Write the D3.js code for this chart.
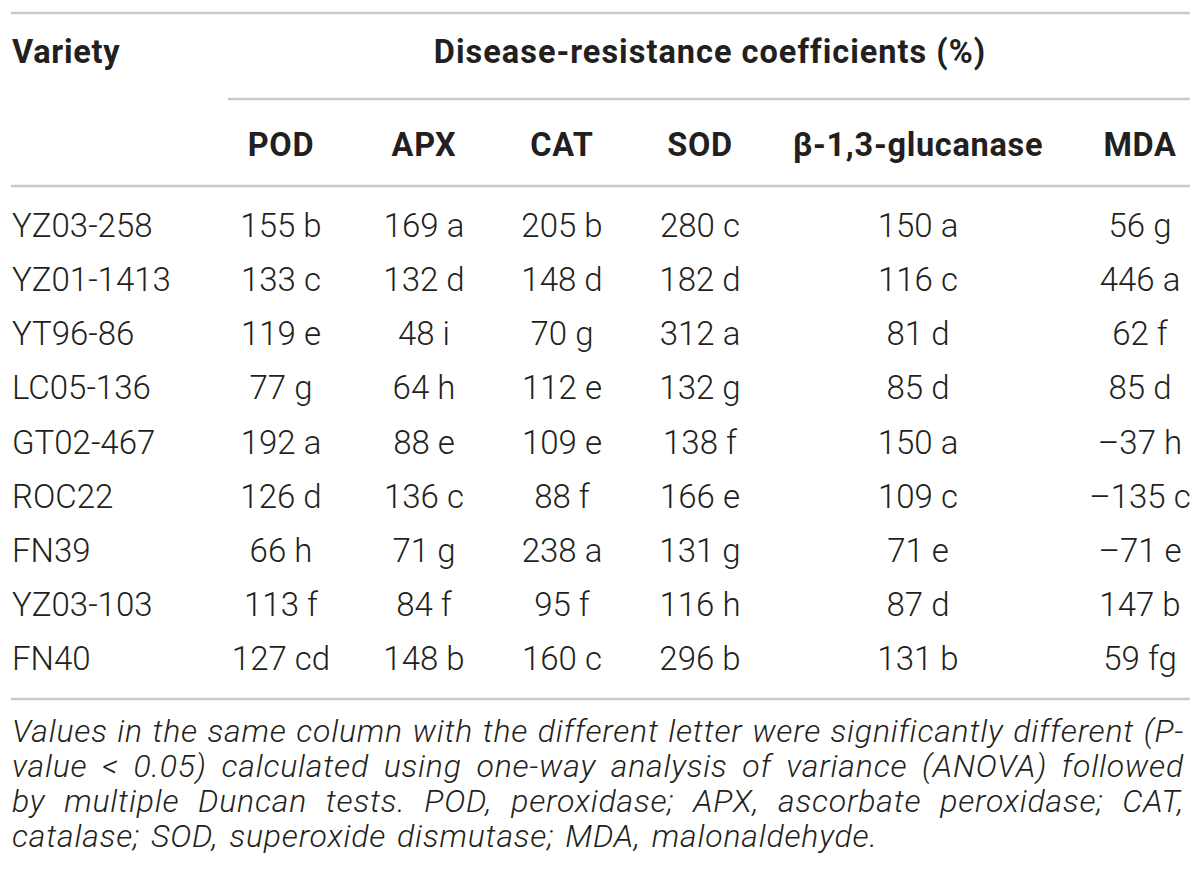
<!DOCTYPE html>
<html>
<head>
<meta charset="utf-8">
<script src="https://cdn.jsdelivr.net/npm/d3@7.9.0/dist/d3.min.js"></script>
<style>
  html, body { margin: 0; padding: 0; background: #fff; }
  svg { display: block; }
  text { fill: #231f20; }
</style>
</head>
<body>
<div id="chart0"></div>
<script>
const width = 1200;
const height = 889;

// table content
const varieties = ['YZ03-258', 'YZ01-1413', 'YT96-86', 'LC05-136', 'GT02-467', 'ROC22', 'FN39', 'YZ03-103', 'FN40'];
const columns = ['POD', 'APX', 'CAT', 'SOD', 'β-1,3-glucanase', 'MDA'];

const podValues = [155, 133, 119, 77, 192, 126, 66, 113, 127];
const podLetters = ['b', 'c', 'e', 'g', 'a', 'd', 'h', 'f', 'cd'];
const apxValues = [169, 132, 48, 64, 88, 136, 71, 84, 148];
const apxLetters = ['a', 'd', 'i', 'h', 'e', 'c', 'g', 'f', 'b'];
const catValues = [205, 148, 70, 112, 109, 88, 238, 95, 160];
const catLetters = ['b', 'd', 'g', 'e', 'e', 'f', 'a', 'f', 'c'];
const sodValues = [280, 182, 312, 132, 138, 166, 131, 116, 296];
const sodLetters = ['c', 'd', 'a', 'g', 'f', 'e', 'g', 'h', 'b'];
const glucValues = [150, 116, 81, 85, 150, 109, 71, 87, 131];
const glucLetters = ['a', 'c', 'd', 'd', 'a', 'c', 'e', 'd', 'b'];
const mdaValues = [56, 446, 62, 85, -37, -135, -71, 147, 59];
const mdaLetters = ['g', 'a', 'f', 'd', 'h', 'c', 'e', 'b', 'fg'];

const groupTitle = 'Disease-resistance coefficients (%)';
const footnoteLines = [
  'Values in the same column with the different letter were significantly different (P-',
  'value < 0.05) calculated using one-way analysis of variance (ANOVA) followed',
  'by multiple Duncan tests. POD, peroxidase; APX, ascorbate peroxidase; CAT,',
  'catalase; SOD, superoxide dismutase; MDA, malonaldehyde.'
];

const seriesValues = [podValues, apxValues, catValues, sodValues, glucValues, mdaValues];
const seriesLetters = [podLetters, apxLetters, catLetters, sodLetters, glucLetters, mdaLetters];

const fmt = v => (v < 0 ? '\u2013' + Math.abs(v) : String(v));

const svg = d3.select('#chart0')
  .append('svg')
  .attr('viewBox', `0 0 ${width} ${height}`)
  .attr('width', width)
  .attr('height', height);

const bodyFont = "Roboto, 'Liberation Sans', sans-serif";
const ruleColor = '#c9c9c9';
const left = 11, right = 1190;

const xCol = d3.scaleOrdinal()
  .domain(columns)
  .range([281, 424, 562, 700, 918, 1140]);

const yRow = d3.scalePoint()
  .domain(varieties)
  .range([237, 670]);

// horizontal rules
const rules = [
  { x1: left, x2: right, y: 13 },
  { x1: 228, x2: right, y: 99 },
  { x1: left, x2: right, y: 186 },
  { x1: left, x2: right, y: 699 }
];
svg.selectAll('line.rule')
  .data(rules)
  .join('line')
  .attr('class', 'rule')
  .attr('x1', d => d.x1)
  .attr('x2', d => d.x2)
  .attr('y1', d => d.y)
  .attr('y2', d => d.y)
  .attr('stroke', ruleColor)
  .attr('stroke-width', 2.5);

// headers
const head = svg.append('g')
  .attr('font-family', bodyFont)
  .attr('font-weight', 700)
  .attr('font-size', 32.5)
  .attr('letter-spacing', 0.7);

head.append('text')
  .attr('x', 12)
  .attr('y', 63)
  .text('Variety');

head.append('text')
  .attr('x', 710)
  .attr('y', 63)
  .attr('text-anchor', 'middle')
  .attr('letter-spacing', 1)
  .text(groupTitle);

head.selectAll('text.colhead')
  .data(columns)
  .join('text')
  .attr('class', 'colhead')
  .attr('x', d => xCol(d))
  .attr('y', 156)
  .attr('text-anchor', 'middle')
  .text(d => d);

// body rows
const body = svg.append('g')
  .attr('font-family', bodyFont)
  .attr('font-weight', 300)
  .attr('font-size', 33);

body.selectAll('text.variety')
  .data(varieties)
  .join('text')
  .attr('class', 'variety')
  .attr('x', 12)
  .attr('y', d => yRow(d))
  .text(d => d);

const cells = [];
columns.forEach((c, ci) => {
  varieties.forEach((v, ri) => {
    cells.push({ col: c, row: v, text: fmt(seriesValues[ci][ri]) + ' ' + seriesLetters[ci][ri] });
  });
});

body.selectAll('text.cell')
  .data(cells)
  .join('text')
  .attr('class', 'cell')
  .attr('x', d => xCol(d.col))
  .attr('y', d => yRow(d.row))
  .attr('text-anchor', 'middle')
  .text(d => d.text);

// footnote, justified like the source
const noteY = d3.scalePoint()
  .domain(d3.range(footnoteLines.length))
  .range([742, 847]);

const note = svg.append('g')
  .attr('font-family', bodyFont)
  .attr('font-style', 'italic')
  .attr('font-weight', 300)
  .attr('font-size', 32)
  .attr('letter-spacing', 0.8);

footnoteLines.forEach((line, li) => {
  const words = line.split(' ');
  const last = li === footnoteLines.length - 1;
  const nodes = words.map(w => note.append('text').attr('y', noteY(li)).text(w));
  const widths = nodes.map(n => n.node().getComputedTextLength());
  const total = d3.sum(widths);
  const spaceW = 11;
  const gap = last ? spaceW : (1184 - 12 - total) / (words.length - 1);
  let x = 12;
  nodes.forEach((n, i) => {
    n.attr('x', x);
    x += widths[i] + gap;
  });
});
</script>
</body>
</html>
